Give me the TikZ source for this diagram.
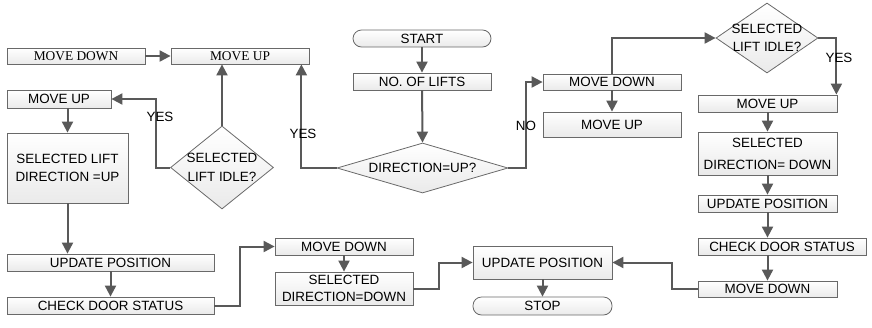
\documentclass[tikz,border=0pt]{standalone}
\usepackage{fontspec}
\setmainfont{Liberation Sans}
\newfontfamily\timesfont{Liberation Serif}
\usetikzlibrary{shapes.geometric,arrows.meta,positioning,calc}
\definecolor{flowline}{RGB}{89,89,89}
\definecolor{flowedge}{RGB}{105,105,105}
\definecolor{flowfill}{RGB}{234,234,234}

\begin{document}
\begin{tikzpicture}[
    x=1pt, y=-1pt,
    >={Triangle[length=11pt,width=11pt]},
    proc/.style={rectangle, draw=flowedge, line width=0.8pt, top color=white, bottom color=flowfill, inner sep=0pt, align=center, font=\fontsize{13.4}{17.5}\selectfont},
    term/.style={proc, rounded corners=8.5pt},
    decision/.style={diamond, draw=flowedge, line width=0.8pt, top color=white, bottom color=flowfill, inner sep=0pt, label={[align=center, font=\fontsize{13.4}{18.5}\selectfont]center:#1}},
    arrow/.style={->, flowline, line width=2pt},
    lbl/.style={font=\fontsize{13.4}{15}\selectfont, inner sep=0pt},
]
\useasboundingbox (0,0) rectangle (872,327);

% left part: lift already moving up
\node[proc, minimum width=138pt, minimum height=16pt, font=\timesfont\fontsize{13.4}{15}\selectfont] (mdTop) at (76,56) {MOVE DOWN};
\node[proc, minimum width=138pt, minimum height=16pt, font=\timesfont\fontsize{13.4}{15}\selectfont] (muTop) at (240,56) {MOVE UP};
\node[proc, minimum width=104pt, minimum height=18pt] (muLeft) at (59,99) {MOVE UP};
\node[proc, minimum width=121pt, minimum height=70pt] (selUp) at (67.5,168) {SELECTED LIFT\\DIRECTION =UP};
\node[decision={SELECTED\\LIFT IDLE?}, minimum width=103pt, minimum height=83pt] (idleLeft) at (222,167.5) {};
\node[proc, minimum width=207pt, minimum height=17pt] (updLeft) at (110.5,262.5) {UPDATE POSITION};
\node[proc, minimum width=207pt, minimum height=17pt] (doorLeft) at (110.5,305.5) {CHECK DOOR STATUS};

% middle: start and the direction test
\node[term, minimum width=138pt, minimum height=17pt] (start) at (422,38.5) {START};
\node[proc, minimum width=138pt, minimum height=17pt] (lifts) at (422,81.5) {NO. OF LIFTS};
\node[decision={DIRECTION=UP?}, minimum width=171pt, minimum height=50pt] (dirUp) at (422.5,168) {};
\node[proc, minimum width=138pt, minimum height=16pt] (mdMid) at (612,82) {MOVE DOWN};
\node[proc, minimum width=138pt, minimum height=25pt] (muMid) at (612,124.5) {MOVE UP};

% right part: lift moving down
\node[decision={SELECTED\\LIFT IDLE?}, minimum width=102pt, minimum height=70pt] (idleRight) at (767,38) {};
\node[proc, minimum width=139pt, minimum height=17pt] (muRight) at (767.5,103.5) {MOVE UP};
\node[proc, minimum width=139pt, minimum height=43pt, font=\fontsize{13.4}{22}\selectfont] (selDown) at (767.5,153.5) {SELECTED\\DIRECTION= DOWN};
\node[proc, minimum width=139pt, minimum height=17pt] (updRight) at (767.5,203.5) {UPDATE POSITION};
\node[proc, minimum width=168pt, minimum height=17pt] (doorRight) at (782,246.5) {CHECK DOOR STATUS};
\node[proc, minimum width=139pt, minimum height=16pt] (mdRight) at (767.5,289) {MOVE DOWN};

% bottom row
\node[proc, minimum width=138pt, minimum height=17pt] (mdLow) at (344,246.5) {MOVE DOWN};
\node[proc, minimum width=138pt, minimum height=33pt] (selLow) at (344,288.5) {SELECTED\\DIRECTION=DOWN};
\node[proc, minimum width=139pt, minimum height=33pt] (updEnd) at (542.5,262.5) {UPDATE POSITION};
\node[term, minimum width=139pt, minimum height=18pt] (stop) at (542.5,306) {STOP};

% connectors
\draw[arrow] (mdTop) -- (muTop);
\draw[arrow] (idleLeft.north) -- (idleLeft.north |- muTop.south);
\draw[arrow] (idleLeft.west) -- ++(-14,0) |- (muLeft.east);
\draw[arrow] (selUp.north |- muLeft.south) -- (selUp.north);
\draw[arrow] (selUp.south) -- (selUp.south |- updLeft.north);
\draw[arrow] (updLeft) -- (doorLeft);
\draw[arrow] (doorLeft.east) -- ++(26,0) |- (mdLow.west);
\draw[arrow] (mdLow) -- (selLow);
\draw[arrow] (selLow.east) -- ++(26,0) |- (updEnd.west);
\draw[arrow] (updEnd) -- (stop);

\draw[arrow] (start) -- (lifts);
\draw[arrow] (lifts) -- (dirUp.north);
\draw[arrow] (dirUp.west) -| ([xshift=-8pt]muTop.south east);
\draw[arrow] (dirUp.east) -- ++(18,0) |- (mdMid.west);
\draw[arrow] (mdMid) -- (muMid);
\draw[arrow] (mdMid.north) |- (idleRight.west);
\draw[arrow] (idleRight.east) -| ([xshift=-1pt]muRight.north east);
\draw[arrow] (muRight) -- (selDown);
\draw[arrow] (selDown) -- (updRight);
\draw[arrow] (updRight.south) -- (updRight.south |- doorRight.north);
\draw[arrow] (mdRight.north |- doorRight.south) -- (mdRight.north);
\draw[arrow] (mdRight.west) -- ++(-26,0) |- (updEnd.east);

% branch labels
\node[lbl] (yesLeft) at (160,116.5) {YES};
\node[lbl] (yesMid) at (303,134) {YES};
\node[lbl] (noMid) at (526,125.5) {NO};
\node[lbl] (yesRight) at (839,58) {YES};
\end{tikzpicture}
\end{document}
